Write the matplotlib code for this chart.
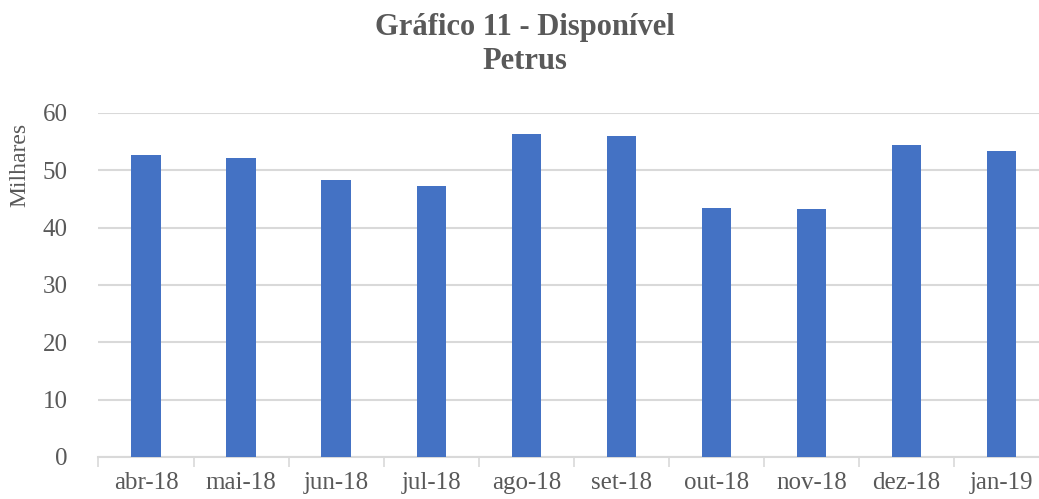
import matplotlib.pyplot as plt
import numpy as np

# monthly values (thousands)
months = ['abr-18', 'mai-18', 'jun-18', 'jul-18', 'ago-18',
          'set-18', 'out-18', 'nov-18', 'dez-18', 'jan-19']
values = [52.6, 52.1, 48.3, 47.2, 56.4, 55.9, 43.5, 43.3, 54.5, 53.4]

text_color = '#595959'
bar_color = '#4472C4'
grid_color = '#D9D9D9'

plt.rcParams['font.family'] = ['Liberation Serif', 'DejaVu Serif']

fig = plt.figure(figsize=(10.39, 4.99), dpi=100)
ax = fig.add_axes([0.0948, 0.0842, 0.915, 0.6894])

x = np.arange(len(months))
ax.bar(x, values, width=0.31, color=bar_color, zorder=3)

ax.set_xlim(-0.5, len(months) - 0.5)
ax.set_ylim(0, 60)
ax.set_yticks(range(0, 61, 10))
ax.yaxis.grid(True, color=grid_color, linewidth=1.5, zorder=0)

ax.set_xticks(x)
ax.set_xticklabels(months)
ax.set_xticks(np.arange(-0.5, len(months), 1), minor=True)
ax.tick_params(axis='x', which='major', length=0, pad=11, labelsize=18, labelcolor=text_color)
ax.tick_params(axis='x', which='minor', length=7, width=1.2, color=grid_color)
ax.tick_params(axis='y', length=0, pad=22, labelsize=18, labelcolor=text_color)

for side in ['top', 'right', 'left']:
    ax.spines[side].set_visible(False)
ax.spines['bottom'].set_color(grid_color)
ax.spines['bottom'].set_linewidth(1.5)

fig.text(0.019, 0.67, 'Milhares', rotation=90, ha='center', va='center',
         fontsize=17, color=text_color)

fig.text(0.505, 0.945, 'Gráfico 11 - Disponível', ha='center', va='center',
         fontsize=22, fontweight='bold', color=text_color)
fig.text(0.505, 0.876, 'Petrus', ha='center', va='center',
         fontsize=22, fontweight='bold', color=text_color)

fig.savefig('out.png', dpi=100)
